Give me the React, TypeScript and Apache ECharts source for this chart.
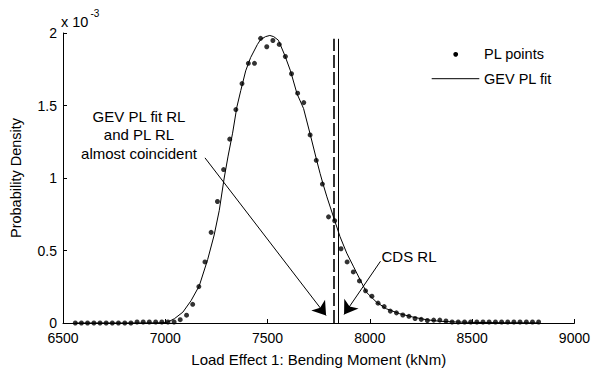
import React, { useEffect, useRef } from 'react';
import * as echarts from 'echarts';

// ---- Data (density values in units of 1e-3) ----
const plX = [
  6560, 6590, 6620, 6651, 6681, 6711, 6741, 6771, 6802, 6832,
  6862, 6892, 6922, 6953, 6983, 7013, 7043, 7073, 7104, 7134,
  7164, 7194, 7224, 7255, 7285, 7315, 7345, 7375, 7406, 7436,
  7466, 7496, 7526, 7557, 7587, 7617, 7647, 7677, 7708, 7738,
  7768, 7798, 7828, 7859, 7889, 7919, 7949, 7979, 8010, 8040,
  8070, 8100, 8130, 8161, 8191, 8221, 8251, 8281, 8312, 8342,
  8372, 8402, 8432, 8463, 8493, 8523, 8553, 8583, 8614, 8644,
  8674, 8704, 8734, 8765, 8795, 8825,
];
const plY = [
  0, 0, 0, 0, 0, 0, 0, 0, 0, 0,
  0.007, 0.007, 0.007, 0.007, 0.007, 0.007, 0.007, 0.023, 0.054, 0.129,
  0.251, 0.421, 0.625, 0.838, 1.058, 1.268, 1.472, 1.651, 1.791, 1.791,
  1.963, 1.905, 1.948, 1.921, 1.838, 1.719, 1.585, 1.52, 1.297, 1.122,
  0.958, 0.732, 0.705, 0.512, 0.421, 0.352, 0.29, 0.222, 0.185, 0.137,
  0.113, 0.082, 0.07, 0.055, 0.046, 0.031, 0.025, 0.017, 0.02, 0.02,
  0.014, 0.007, 0.007, 0.007, 0.007, 0.007, 0.007, 0.007, 0.007, 0.007,
  0.007, 0.007, 0.007, 0.007, 0.007, 0.007,
];
const gevX = [
  6560, 6800, 6950, 7000, 7013, 7045, 7086, 7126, 7166, 7207,
  7239, 7264, 7288, 7307, 7329, 7350, 7369, 7393, 7417, 7450,
  7466, 7490, 7511, 7530, 7553, 7583, 7612, 7644, 7676, 7709,
  7741, 7757, 7773, 7790, 7830, 7854, 7887, 7919, 7951, 7984,
  8033, 8081, 8146, 8210, 8275, 8340, 8420, 8500, 8650, 8825,
];
const gevY = [
  0, 0, 0.001, 0.003, 0.007, 0.03, 0.075, 0.154, 0.256, 0.437,
  0.607, 0.777, 1.0, 1.151, 1.309, 1.49, 1.603, 1.739, 1.83, 1.92,
  1.955, 1.975, 1.983, 1.975, 1.95, 1.85, 1.739, 1.581, 1.479, 1.298,
  1.117, 1.03, 0.95, 0.87, 0.698, 0.596, 0.482, 0.392, 0.302, 0.211,
  0.143, 0.098, 0.064, 0.041, 0.023, 0.012, 0.007, 0.004, 0.002, 0.001,
];
const xTicks = [6500, 7000, 7500, 8000, 8500, 9000];
const yTicks = [0, 0.5, 1, 1.5, 2];

// return levels
const plRL = 7824;
const cdsRL = 7845;
const rlTop = 1.96;

// annotation arrows [x, y]
const coincidentArrowFrom = [7194, 1.139];
const coincidentArrowTo = [7786, 0.052];
const cdsArrowFrom = [8052, 0.426];
const cdsArrowTo = [7874, 0.059];

const FONT = 'Liberation Sans, Arial, Helvetica, sans-serif';

export default function App() {
  const ref = useRef<HTMLDivElement>(null);
  useEffect(() => {
    if (!ref.current) return;
    const chart = echarts.init(ref.current, null, { renderer: 'svg' });
    const black = '#000';
    const option: any = {
      animation: false,
      backgroundColor: '#fff',
      textStyle: { fontFamily: FONT, color: black },
      grid: { left: 61, right: 17, top: 33, bottom: 44, containLabel: false },
      xAxis: {
        type: 'value',
        min: xTicks[0],
        max: xTicks[xTicks.length - 1],
        interval: 500,
        name: 'Load Effect 1: Bending Moment (kNm)',
        nameLocation: 'middle',
        nameGap: 29,
        nameTextStyle: { fontSize: 15, color: black, fontFamily: FONT },
        axisLine: { show: true, lineStyle: { color: black, width: 1 } },
        axisTick: { show: true, inside: true, length: 4, lineStyle: { color: black } },
        axisLabel: {
          fontSize: 14, color: black, fontFamily: FONT, margin: 8,
          formatter: (v: number) => String(v),
        },
        splitLine: { show: false },
      },
      yAxis: {
        type: 'value',
        min: yTicks[0],
        max: yTicks[yTicks.length - 1],
        interval: 0.5,
        name: 'Probability Density',
        nameLocation: 'middle',
        nameGap: 40,
        nameRotate: 90,
        nameTextStyle: { fontSize: 14.5, color: black, fontFamily: FONT },
        axisLine: { show: true, lineStyle: { color: black, width: 1 } },
        axisTick: { show: true, inside: true, length: 4, lineStyle: { color: black } },
        axisLabel: {
          fontSize: 14, color: black, fontFamily: FONT, margin: 6,
          formatter: (v: number) => String(v),
        },
        splitLine: { show: false },
      },
      series: [
        {
          name: 'PL points',
          type: 'scatter',
          data: plX.map((x, i) => [x, plY[i]]),
          symbol: 'circle',
          symbolSize: 5,
          itemStyle: { color: black },
          silent: true,
          z: 3,
        },
        {
          name: 'GEV PL fit',
          type: 'line',
          data: gevX.map((x, i) => [x, gevY[i]]),
          showSymbol: false,
          symbol: 'none',
          smooth: false,
          lineStyle: { color: black, width: 1 },
          silent: true,
          z: 2,
          markLine: {
            silent: true,
            animation: false,
            symbol: ['none', 'none'],
            label: { show: false },
            emphasis: { disabled: true },
            data: [
              [
                { coord: [plRL, 0], lineStyle: { type: [13, 4], width: 1.6, color: black } },
                { coord: [plRL, rlTop] },
              ],
              [
                { coord: [cdsRL, 0], lineStyle: { type: 'solid', width: 1, color: black } },
                { coord: [cdsRL, rlTop] },
              ],
              [
                { coord: coincidentArrowFrom, symbol: 'none', lineStyle: { type: 'solid', width: 1, color: black } },
                { coord: coincidentArrowTo, symbol: 'arrow', symbolSize: 13 },
              ],
              [
                { coord: cdsArrowFrom, symbol: 'none', lineStyle: { type: 'solid', width: 1, color: black } },
                { coord: cdsArrowTo, symbol: 'arrow', symbolSize: 13 },
              ],
            ],
          },
        },
      ],
      graphic: [
        {
          type: 'text', left: 61, top: 14,
          style: { text: 'x 10', fontSize: 14.5, fontFamily: FONT, fill: black },
        },
        {
          type: 'text', left: 90.5, top: 8,
          style: { text: '-3', fontSize: 10, fontFamily: FONT, fill: black },
        },
        {
          type: 'text', x: 139, y: 134.5,
          style: {
            text: 'GEV PL fit RL\nand PL RL\nalmost coincident',
            fontSize: 15, fontFamily: FONT, fill: black,
            align: 'center', verticalAlign: 'middle', lineHeight: 18.5,
          },
        },
        {
          type: 'text', x: 409, y: 256,
          style: {
            text: 'CDS RL', fontSize: 15, fontFamily: FONT, fill: black,
            align: 'center', verticalAlign: 'middle',
          },
        },
        // legend
        {
          type: 'circle', shape: { cx: 455.7, cy: 54.3, r: 2.4 },
          style: { fill: black },
        },
        {
          type: 'text', x: 484, y: 54.3,
          style: { text: 'PL points', fontSize: 14.5, fontFamily: FONT, fill: black, verticalAlign: 'middle' },
        },
        {
          type: 'line', shape: { x1: 431.7, y1: 78.7, x2: 479.3, y2: 78.7 },
          style: { stroke: black, lineWidth: 1 },
        },
        {
          type: 'text', x: 484, y: 78.7,
          style: { text: 'GEV PL fit', fontSize: 14.5, fontFamily: FONT, fill: black, verticalAlign: 'middle' },
        },
      ],
    };
    chart.setOption(option);
    return () => chart.dispose();
  }, []);
  return (
    <div
      ref={ref}
      style={{ position: 'absolute', left: 0, top: 0, width: 593, height: 372, background: '#fff' }}
    />
  );
}
